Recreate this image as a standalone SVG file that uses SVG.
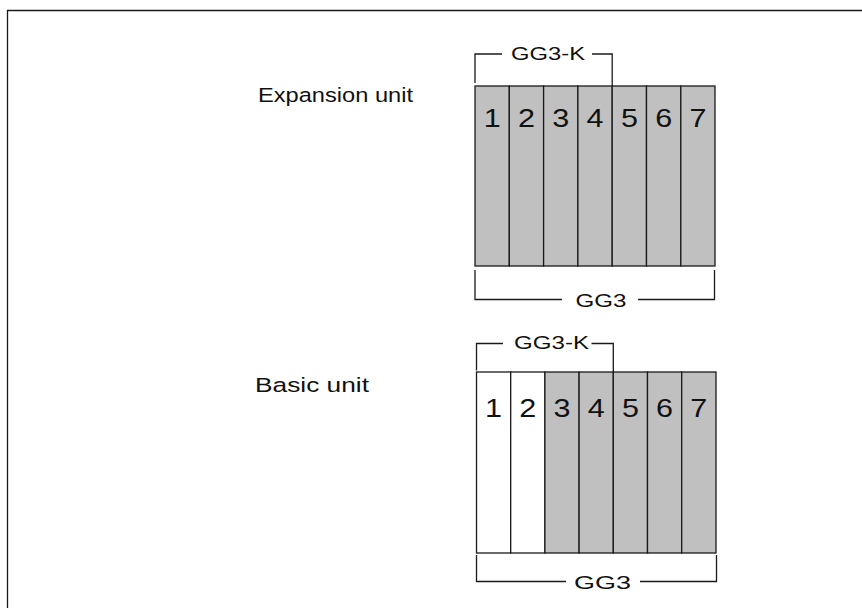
<svg xmlns="http://www.w3.org/2000/svg" width="862" height="608" viewBox="0 0 862 608">
<style>
.ln{fill:none;stroke:#1a1a1a;stroke-width:1.3}
.g{fill:#c0c0c0;stroke:#1a1a1a;stroke-width:1.3}
.w{fill:#ffffff;stroke:#1a1a1a;stroke-width:1.3}
text{font-family:"Liberation Sans",Arial,sans-serif;fill:#111}
.d{font-size:26.5px;text-anchor:middle}
.lbl{font-size:20.5px}
.br{font-size:19px}
</style>
<rect width="862" height="608" fill="#fff"/>
<path class="ln" d="M7.5,608 V10.5 H862" stroke-width="1.6"/>
<g id="expansion-label"><text class="lbl" x="258" y="102" textLength="155" lengthAdjust="spacingAndGlyphs">Expansion unit</text></g>
<g id="basic-label"><text class="lbl" x="255" y="392" textLength="114" lengthAdjust="spacingAndGlyphs">Basic unit</text></g>
<g id="expansion-unit">
<rect class="g" x="475" y="86" width="34.3" height="180"/>
<rect class="g" x="509.3" y="86" width="34.3" height="180"/>
<rect class="g" x="543.6" y="86" width="34.3" height="180"/>
<rect class="g" x="577.9" y="86" width="34.3" height="180"/>
<rect class="g" x="612.2" y="86" width="34.3" height="180"/>
<rect class="g" x="646.5" y="86" width="34.3" height="180"/>
<rect class="g" x="680.8" y="86" width="34.2" height="180"/>
<text class="d" x="492.2" y="127" textLength="17" lengthAdjust="spacingAndGlyphs">1</text>
<text class="d" x="526.5" y="127" textLength="17" lengthAdjust="spacingAndGlyphs">2</text>
<text class="d" x="560.8" y="127" textLength="17" lengthAdjust="spacingAndGlyphs">3</text>
<text class="d" x="595.1" y="127" textLength="17" lengthAdjust="spacingAndGlyphs">4</text>
<text class="d" x="629.4" y="127" textLength="17" lengthAdjust="spacingAndGlyphs">5</text>
<text class="d" x="663.7" y="127" textLength="17" lengthAdjust="spacingAndGlyphs">6</text>
<text class="d" x="698" y="127" textLength="17" lengthAdjust="spacingAndGlyphs">7</text>
</g>
<g id="basic-unit">
<rect class="w" x="476.5" y="372" width="34.2" height="181"/>
<rect class="w" x="510.7" y="372" width="34.2" height="181"/>
<rect class="g" x="544.9" y="372" width="34.2" height="181"/>
<rect class="g" x="579.1" y="372" width="34.2" height="181"/>
<rect class="g" x="613.3" y="372" width="34.2" height="181"/>
<rect class="g" x="647.5" y="372" width="34.2" height="181"/>
<rect class="g" x="681.7" y="372" width="34.3" height="181"/>
<text class="d" x="493.6" y="416.7" textLength="17" lengthAdjust="spacingAndGlyphs">1</text>
<text class="d" x="527.8" y="416.7" textLength="17" lengthAdjust="spacingAndGlyphs">2</text>
<text class="d" x="562" y="416.7" textLength="17" lengthAdjust="spacingAndGlyphs">3</text>
<text class="d" x="596.2" y="416.7" textLength="17" lengthAdjust="spacingAndGlyphs">4</text>
<text class="d" x="630.4" y="416.7" textLength="17" lengthAdjust="spacingAndGlyphs">5</text>
<text class="d" x="664.6" y="416.7" textLength="17" lengthAdjust="spacingAndGlyphs">6</text>
<text class="d" x="698.8" y="416.7" textLength="17" lengthAdjust="spacingAndGlyphs">7</text>
</g>
<g id="connectors">
<path class="ln" d="M475,83 V54 H502 M592,54 H612.2 V86"/>
<path class="ln" d="M475,270 V299.5 H562 M638,299.5 H714.5 V270"/>
<path class="ln" d="M476.5,370.5 V343.5 H503 M591.5,343.5 H613.3 V372"/>
<path class="ln" d="M476.5,555 V581.5 H566 M640,581.5 H716.5 V555"/>
</g>
<g id="labels">
<text class="br" x="511" y="59.5" textLength="74" lengthAdjust="spacingAndGlyphs">GG3-K</text>
<text class="br" x="575.5" y="306.5" textLength="51" lengthAdjust="spacingAndGlyphs">GG3</text>
<text class="br" x="514" y="348.5" textLength="75" lengthAdjust="spacingAndGlyphs">GG3-K</text>
<text class="br" x="574" y="588.5" font-size="23" textLength="57" lengthAdjust="spacingAndGlyphs">GG3</text>
</g>
</svg>
